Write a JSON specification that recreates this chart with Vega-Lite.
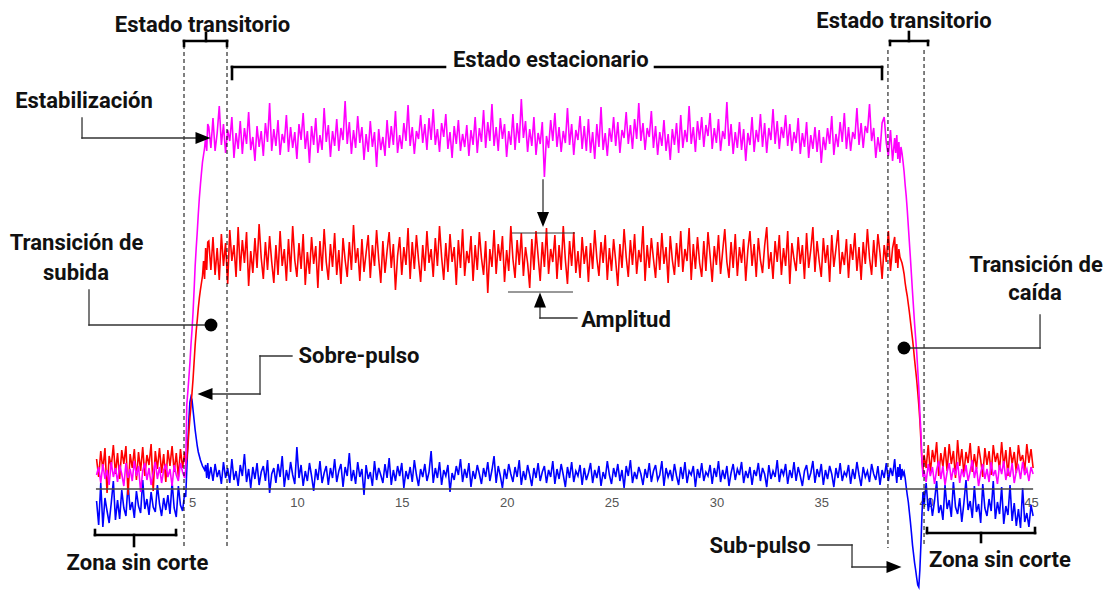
{
  "$schema": "https://vega.github.io/schema/vega-lite/v6.json",
  "width": 1106,
  "height": 590,
  "padding": 0,
  "autosize": {"type": "none"},
  "background": "white",
  "config": {"view": {"stroke": null}},
  "datasets": {
    "sig": [
      {"x":0.45,"m":14,"r":30,"b":-12},{"x":0.55,"m":22,"r":12,"b":-36},{"x":0.65,"m":6,"r":38,"b":6},{"x":0.75,"m":25,"r":19,"b":-38},{"x":0.85,"m":10,"r":41,"b":-9},
      {"x":0.95,"m":19,"r":-4,"b":-22},{"x":1.05,"m":4,"r":33,"b":-34},{"x":1.15,"m":27,"r":22,"b":-14},{"x":1.25,"m":12,"r":44,"b":8},{"x":1.35,"m":21,"r":15,"b":-31},
      {"x":1.45,"m":7,"r":36,"b":-11},{"x":1.55,"m":24,"r":10,"b":-30},{"x":1.65,"m":15,"r":39,"b":-1},{"x":1.75,"m":3,"r":25,"b":-19},{"x":1.85,"m":26,"r":43,"b":-27},
      {"x":1.95,"m":11,"r":-6,"b":5},{"x":2.05,"m":20,"r":35,"b":-21},{"x":2.15,"m":8,"r":21,"b":-13},{"x":2.25,"m":28,"r":40,"b":-29},{"x":2.35,"m":13,"r":9,"b":-2},
      {"x":2.45,"m":23,"r":37,"b":-17},{"x":2.55,"m":-3,"r":18,"b":-24},{"x":2.65,"m":18,"r":42,"b":9},{"x":2.75,"m":26,"r":13,"b":-20},{"x":2.85,"m":9,"r":34,"b":-10},
      {"x":2.95,"m":21,"r":24,"b":-26},{"x":3.05,"m":4,"r":45,"b":-3},{"x":3.15,"m":16,"r":-2,"b":-18},{"x":3.25,"m":27,"r":38,"b":-23},{"x":3.35,"m":10,"r":20,"b":4},
      {"x":3.45,"m":22,"r":41,"b":-15},{"x":3.55,"m":6,"r":16,"b":-27},{"x":3.65,"m":19,"r":35,"b":-9},{"x":3.75,"m":25,"r":7,"b":-21},{"x":3.85,"m":12,"r":39,"b":-6},
      {"x":3.95,"m":20,"r":23,"b":-25},{"x":4.05,"m":3,"r":43,"b":7},{"x":4.15,"m":24,"r":17,"b":-19},{"x":4.25,"m":14,"r":36,"b":-28},{"x":4.35,"m":8,"r":12,"b":3},
      {"x":4.45,"m":26,"r":40,"b":-16},{"x":4.55,"m":17,"r":21,"b":-22},{"x":4.65,"m":11,"r":37,"b":-4},
      {"x":4.70,"m":20,"r":25,"b":-8},{"x":4.75,"m":84,"r":30,"b":19},{"x":4.80,"m":97,"r":41,"b":44},{"x":4.85,"m":111,"r":57,"b":69},{"x":4.90,"m":126,"r":71,"b":87},
      {"x":4.95,"m":144,"r":83,"b":92},{"x":5.00,"m":159,"r":96,"b":89},{"x":5.05,"m":177,"r":110,"b":79},{"x":5.10,"m":199,"r":127,"b":69},{"x":5.15,"m":223,"r":144,"b":59},
      {"x":5.20,"m":241,"r":158,"b":51},{"x":5.25,"m":257,"r":169,"b":43},{"x":5.30,"m":275,"r":181,"b":37},{"x":5.35,"m":291,"r":191,"b":33},{"x":5.40,"m":304,"r":199,"b":29},
      {"x":5.45,"m":316,"r":206,"b":26},{"x":5.50,"m":327,"r":213,"b":23},{"x":5.55,"m":334,"r":228,"b":21},{"x":5.60,"m":341,"r":210,"b":19},{"x":5.65,"m":352,"r":241,"b":24},
      {"x":5.70,"m":338,"r":219,"b":11},{"x":5.75,"m":365,"r":247,"b":26},
      {"x":5.8,"m":362,"r":248,"b":10},{"x":5.9,"m":341,"r":219,"b":22},{"x":6.0,"m":371,"r":252,"b":8},{"x":6.1,"m":338,"r":214,"b":25},{"x":6.2,"m":356,"r":241,"b":12},
      {"x":6.3,"m":383,"r":209,"b":19},{"x":6.4,"m":344,"r":255,"b":5},{"x":6.5,"m":365,"r":223,"b":27},{"x":6.6,"m":336,"r":246,"b":11},{"x":6.7,"m":359,"r":205,"b":21},
      {"x":6.8,"m":348,"r":259,"b":6},{"x":6.9,"m":372,"r":228,"b":30},{"x":7.0,"m":331,"r":244,"b":9},{"x":7.1,"m":356,"r":212,"b":18},{"x":7.2,"m":340,"r":262,"b":3},
      {"x":7.3,"m":368,"r":218,"b":24},{"x":7.4,"m":335,"r":249,"b":13},{"x":7.5,"m":361,"r":226,"b":35},{"x":7.6,"m":345,"r":257,"b":7},{"x":7.7,"m":377,"r":203,"b":20},
      {"x":7.8,"m":339,"r":238,"b":1},{"x":7.9,"m":352,"r":216,"b":22},{"x":8.0,"m":328,"r":251,"b":10},{"x":8.1,"m":363,"r":221,"b":26},{"x":8.2,"m":342,"r":265,"b":4},
      {"x":8.3,"m":358,"r":231,"b":17},{"x":8.4,"m":333,"r":210,"b":23},{"x":8.5,"m":366,"r":247,"b":8},{"x":8.6,"m":347,"r":219,"b":29},{"x":8.7,"m":386,"r":253,"b":-4},
      {"x":8.8,"m":338,"r":227,"b":15},{"x":8.9,"m":360,"r":206,"b":21},{"x":9.0,"m":343,"r":244,"b":6},{"x":9.1,"m":369,"r":214,"b":25},{"x":9.2,"m":334,"r":258,"b":12},
      {"x":9.3,"m":355,"r":223,"b":33},{"x":9.4,"m":346,"r":240,"b":2},{"x":9.5,"m":374,"r":208,"b":19},{"x":9.6,"m":337,"r":250,"b":9},{"x":9.7,"m":362,"r":217,"b":27},
      {"x":9.8,"m":341,"r":263,"b":14},{"x":9.9,"m":357,"r":229,"b":5},{"x":10.0,"m":330,"r":212,"b":42},{"x":10.1,"m":365,"r":246,"b":11},{"x":10.2,"m":349,"r":220,"b":24},
      {"x":10.3,"m":376,"r":255,"b":3},{"x":10.4,"m":340,"r":204,"b":18},{"x":10.5,"m":358,"r":237,"b":8},{"x":10.6,"m":326,"r":215,"b":26},{"x":10.7,"m":363,"r":252,"b":13},
      {"x":10.8,"m":344,"r":225,"b":-2},{"x":10.9,"m":371,"r":243,"b":20},{"x":11.0,"m":336,"r":201,"b":9},{"x":11.1,"m":354,"r":248,"b":28},{"x":11.2,"m":339,"r":218,"b":6},
      {"x":11.3,"m":381,"r":260,"b":16},{"x":11.4,"m":347,"r":227,"b":23},{"x":11.5,"m":364,"r":209,"b":4},{"x":11.6,"m":332,"r":245,"b":21},{"x":11.7,"m":358,"r":222,"b":11},
      {"x":11.8,"m":343,"r":256,"b":30},{"x":11.9,"m":370,"r":214,"b":7},{"x":12.0,"m":338,"r":239,"b":18},{"x":12.1,"m":361,"r":205,"b":25},{"x":12.2,"m":349,"r":251,"b":2},
      {"x":12.3,"m":388,"r":229,"b":22},{"x":12.4,"m":345,"r":212,"b":13},{"x":12.5,"m":367,"r":247,"b":36},{"x":12.6,"m":335,"r":219,"b":8},{"x":12.7,"m":359,"r":264,"b":19},
      {"x":12.8,"m":341,"r":226,"b":5},{"x":12.9,"m":373,"r":241,"b":27},{"x":13.0,"m":346,"r":208,"b":12},{"x":13.1,"m":362,"r":250,"b":20},{"x":13.2,"m":329,"r":217,"b":-6},
      {"x":13.3,"m":355,"r":236,"b":24},{"x":13.4,"m":337,"r":254,"b":10},{"x":13.5,"m":368,"r":211,"b":17},{"x":13.6,"m":342,"r":244,"b":3},{"x":13.7,"m":357,"r":223,"b":28},
      {"x":13.8,"m":322,"r":259,"b":9},{"x":13.9,"m":360,"r":230,"b":21},{"x":14.0,"m":339,"r":206,"b":14},{"x":14.1,"m":352,"r":248,"b":6},{"x":14.2,"m":333,"r":216,"b":25},
      {"x":14.3,"m":369,"r":238,"b":11},{"x":14.4,"m":341,"r":257,"b":31},{"x":14.5,"m":363,"r":221,"b":4},{"x":14.6,"m":344,"r":245,"b":19},{"x":14.7,"m":378,"r":199,"b":8},
      {"x":14.8,"m":336,"r":233,"b":23},{"x":14.9,"m":354,"r":252,"b":13},{"x":15.0,"m":340,"r":214,"b":26},{"x":15.1,"m":366,"r":242,"b":1},{"x":15.2,"m":348,"r":224,"b":18},
      {"x":15.3,"m":384,"r":261,"b":10},{"x":15.4,"m":343,"r":210,"b":22},{"x":15.5,"m":362,"r":247,"b":7},{"x":15.6,"m":335,"r":220,"b":29},{"x":15.7,"m":358,"r":254,"b":14},
      {"x":15.8,"m":350,"r":229,"b":3},{"x":15.9,"m":374,"r":207,"b":20},{"x":16.0,"m":346,"r":244,"b":12},{"x":16.1,"m":365,"r":218,"b":25},{"x":16.2,"m":339,"r":258,"b":8},
      {"x":16.3,"m":371,"r":226,"b":17},{"x":16.4,"m":349,"r":240,"b":38},{"x":16.5,"m":380,"r":212,"b":6},{"x":16.6,"m":344,"r":251,"b":21},{"x":16.7,"m":360,"r":223,"b":11},
      {"x":16.8,"m":337,"r":263,"b":27},{"x":16.9,"m":366,"r":232,"b":4},{"x":17.0,"m":352,"r":209,"b":19},{"x":17.1,"m":375,"r":246,"b":13},{"x":17.2,"m":340,"r":217,"b":24},
      {"x":17.3,"m":357,"r":255,"b":-3},{"x":17.4,"m":331,"r":227,"b":16},{"x":17.5,"m":363,"r":242,"b":9},{"x":17.6,"m":345,"r":204,"b":23},{"x":17.7,"m":369,"r":249,"b":14},
      {"x":17.8,"m":338,"r":221,"b":30},{"x":17.9,"m":355,"r":260,"b":7},{"x":18.0,"m":342,"r":213,"b":20},{"x":18.1,"m":364,"r":238,"b":11},{"x":18.2,"m":333,"r":226,"b":26},
      {"x":18.3,"m":359,"r":253,"b":2},{"x":18.4,"m":344,"r":208,"b":18},{"x":18.5,"m":372,"r":244,"b":10},{"x":18.6,"m":336,"r":219,"b":24},{"x":18.7,"m":361,"r":257,"b":15},
      {"x":18.8,"m":347,"r":231,"b":5},{"x":18.9,"m":379,"r":214,"b":21},{"x":19.0,"m":341,"r":248,"b":12},{"x":19.1,"m":367,"r":196,"b":27},{"x":19.2,"m":348,"r":240,"b":8},
      {"x":19.3,"m":385,"r":222,"b":19},{"x":19.4,"m":343,"r":259,"b":33},{"x":19.5,"m":362,"r":215,"b":6},{"x":19.6,"m":338,"r":245,"b":23},{"x":19.7,"m":371,"r":228,"b":13},
      {"x":19.8,"m":350,"r":253,"b":1},{"x":19.9,"m":365,"r":207,"b":20},{"x":20.0,"m":332,"r":239,"b":10},{"x":20.1,"m":358,"r":218,"b":25},{"x":20.2,"m":344,"r":263,"b":15},
      {"x":20.3,"m":375,"r":230,"b":7},{"x":20.4,"m":339,"r":211,"b":22},{"x":20.5,"m":366,"r":249,"b":12},{"x":20.6,"m":346,"r":224,"b":29},{"x":20.7,"m":390,"r":256,"b":4},
      {"x":20.8,"m":351,"r":213,"b":18},{"x":20.9,"m":368,"r":242,"b":9},{"x":21.0,"m":337,"r":226,"b":24},{"x":21.1,"m":360,"r":201,"b":14},{"x":21.2,"m":343,"r":250,"b":3},
      {"x":21.3,"m":372,"r":219,"b":21},{"x":21.4,"m":334,"r":258,"b":11},{"x":21.5,"m":356,"r":233,"b":26},{"x":21.6,"m":345,"r":208,"b":8},{"x":21.7,"m":367,"r":247,"b":17},
      {"x":21.8,"m":312,"r":222,"b":23},{"x":21.9,"m":353,"r":261,"b":6},{"x":22.0,"m":341,"r":215,"b":19},{"x":22.1,"m":369,"r":240,"b":12},{"x":22.2,"m":348,"r":227,"b":28},
      {"x":22.3,"m":376,"r":254,"b":5},{"x":22.4,"m":342,"r":210,"b":20},{"x":22.5,"m":362,"r":244,"b":10},{"x":22.6,"m":337,"r":219,"b":25},{"x":22.7,"m":358,"r":263,"b":14},
      {"x":22.8,"m":346,"r":229,"b":2},{"x":22.9,"m":381,"r":205,"b":22},{"x":23.0,"m":344,"r":248,"b":11},{"x":23.1,"m":365,"r":223,"b":27},{"x":23.2,"m":334,"r":257,"b":7},
      {"x":23.3,"m":359,"r":216,"b":18},{"x":23.4,"m":349,"r":238,"b":13},{"x":23.5,"m":373,"r":211,"b":24},{"x":23.6,"m":340,"r":252,"b":4},{"x":23.7,"m":363,"r":225,"b":21},
      {"x":23.8,"m":338,"r":243,"b":9},{"x":23.9,"m":370,"r":207,"b":16},{"x":24.0,"m":336,"r":246,"b":26},{"x":24.1,"m":357,"r":220,"b":6},{"x":24.2,"m":330,"r":259,"b":19},
      {"x":24.3,"m":365,"r":231,"b":11},{"x":24.4,"m":342,"r":213,"b":23},{"x":24.5,"m":382,"r":247,"b":3},{"x":24.6,"m":339,"r":226,"b":17},{"x":24.7,"m":356,"r":254,"b":10},
      {"x":24.8,"m":333,"r":209,"b":28},{"x":24.9,"m":361,"r":241,"b":14},{"x":25.0,"m":347,"r":218,"b":5},{"x":25.1,"m":372,"r":250,"b":21},{"x":25.2,"m":343,"r":228,"b":12},
      {"x":25.3,"m":367,"r":203,"b":25},{"x":25.4,"m":336,"r":245,"b":8},{"x":25.5,"m":359,"r":221,"b":19},{"x":25.6,"m":351,"r":260,"b":1},{"x":25.7,"m":377,"r":232,"b":23},
      {"x":25.8,"m":345,"r":212,"b":13},{"x":25.9,"m":364,"r":249,"b":29},{"x":26.0,"m":340,"r":224,"b":6},{"x":26.1,"m":370,"r":255,"b":17},{"x":26.2,"m":350,"r":215,"b":10},
      {"x":26.3,"m":386,"r":239,"b":22},{"x":26.4,"m":348,"r":227,"b":15},{"x":26.5,"m":366,"r":263,"b":4},{"x":26.6,"m":339,"r":208,"b":20},{"x":26.7,"m":361,"r":244,"b":11},
      {"x":26.8,"m":352,"r":221,"b":26},{"x":26.9,"m":378,"r":251,"b":7},{"x":27.0,"m":341,"r":230,"b":18},{"x":27.1,"m":363,"r":211,"b":24},{"x":27.2,"m":334,"r":247,"b":9},
      {"x":27.3,"m":357,"r":219,"b":14},{"x":27.4,"m":343,"r":256,"b":28},{"x":27.5,"m":369,"r":225,"b":3},{"x":27.6,"m":338,"r":242,"b":21},{"x":27.7,"m":355,"r":206,"b":12},
      {"x":27.8,"m":329,"r":253,"b":19},{"x":27.9,"m":360,"r":229,"b":8},{"x":28.0,"m":344,"r":214,"b":25},{"x":28.1,"m":366,"r":246,"b":13},{"x":28.2,"m":336,"r":222,"b":4},
      {"x":28.3,"m":374,"r":258,"b":22},{"x":28.4,"m":341,"r":217,"b":10},{"x":28.5,"m":359,"r":240,"b":27},{"x":28.6,"m":347,"r":228,"b":6},{"x":28.7,"m":383,"r":261,"b":18},
      {"x":28.8,"m":345,"r":209,"b":14},{"x":28.9,"m":362,"r":245,"b":23},{"x":29.0,"m":337,"r":220,"b":2},{"x":29.1,"m":368,"r":252,"b":20},{"x":29.2,"m":349,"r":226,"b":11},
      {"x":29.3,"m":372,"r":212,"b":26},{"x":29.4,"m":342,"r":248,"b":8},{"x":29.5,"m":364,"r":218,"b":17},{"x":29.6,"m":353,"r":257,"b":13},{"x":29.7,"m":376,"r":233,"b":24},
      {"x":29.8,"m":340,"r":207,"b":5},{"x":29.9,"m":361,"r":243,"b":21},{"x":30.0,"m":346,"r":224,"b":12},{"x":30.1,"m":370,"r":254,"b":28},{"x":30.2,"m":338,"r":215,"b":7},
      {"x":30.3,"m":358,"r":238,"b":19},{"x":30.4,"m":350,"r":260,"b":10},{"x":30.5,"m":387,"r":227,"b":23},{"x":30.6,"m":343,"r":211,"b":3},{"x":30.7,"m":365,"r":247,"b":16},
      {"x":30.8,"m":335,"r":221,"b":25},{"x":30.9,"m":357,"r":255,"b":9},{"x":31.0,"m":341,"r":213,"b":20},{"x":31.1,"m":367,"r":242,"b":14},{"x":31.2,"m":339,"r":226,"b":27},
      {"x":31.3,"m":360,"r":250,"b":6},{"x":31.4,"m":328,"r":208,"b":18},{"x":31.5,"m":356,"r":239,"b":11},{"x":31.6,"m":344,"r":258,"b":22},{"x":31.7,"m":372,"r":223,"b":4},
      {"x":31.8,"m":337,"r":245,"b":19},{"x":31.9,"m":359,"r":212,"b":13},{"x":32.0,"m":347,"r":251,"b":26},{"x":32.1,"m":375,"r":229,"b":8},{"x":32.2,"m":342,"r":216,"b":21},
      {"x":32.3,"m":366,"r":243,"b":15},{"x":32.4,"m":336,"r":262,"b":2},{"x":32.5,"m":361,"r":220,"b":24},{"x":32.6,"m":349,"r":237,"b":10},{"x":32.7,"m":380,"r":210,"b":18},
      {"x":32.8,"m":345,"r":248,"b":12},{"x":32.9,"m":368,"r":227,"b":29},{"x":33.0,"m":340,"r":254,"b":7},{"x":33.1,"m":362,"r":214,"b":20},{"x":33.2,"m":351,"r":241,"b":14},
      {"x":33.3,"m":374,"r":223,"b":25},{"x":33.4,"m":343,"r":258,"b":5},{"x":33.5,"m":365,"r":205,"b":19},{"x":33.6,"m":338,"r":246,"b":11},{"x":33.7,"m":357,"r":230,"b":27},
      {"x":33.8,"m":346,"r":218,"b":8},{"x":33.9,"m":371,"r":252,"b":22},{"x":34.0,"m":335,"r":225,"b":13},{"x":34.1,"m":356,"r":244,"b":3},{"x":34.2,"m":342,"r":210,"b":18},
      {"x":34.3,"m":367,"r":256,"b":24},{"x":34.4,"m":331,"r":221,"b":9},{"x":34.5,"m":354,"r":239,"b":16},{"x":34.6,"m":340,"r":262,"b":28},{"x":34.7,"m":362,"r":217,"b":6},
      {"x":34.8,"m":337,"r":248,"b":20},{"x":34.9,"m":359,"r":228,"b":12},{"x":35.0,"m":326,"r":212,"b":25},{"x":35.1,"m":352,"r":251,"b":4},{"x":35.2,"m":339,"r":226,"b":19},
      {"x":35.3,"m":361,"r":244,"b":10},{"x":35.4,"m":345,"r":207,"b":23},{"x":35.5,"m":373,"r":254,"b":15},{"x":35.6,"m":334,"r":222,"b":2},{"x":35.7,"m":355,"r":240,"b":21},
      {"x":35.8,"m":342,"r":259,"b":11},{"x":35.9,"m":367,"r":215,"b":26},{"x":36.0,"m":347,"r":237,"b":8},{"x":36.1,"m":376,"r":224,"b":17},{"x":36.2,"m":340,"r":250,"b":13},
      {"x":36.3,"m":362,"r":211,"b":24},{"x":36.4,"m":338,"r":245,"b":5},{"x":36.5,"m":357,"r":229,"b":20},{"x":36.6,"m":350,"r":256,"b":10},{"x":36.7,"m":381,"r":218,"b":27},
      {"x":36.8,"m":344,"r":242,"b":14},{"x":36.9,"m":366,"r":209,"b":3},{"x":37.0,"m":341,"r":247,"b":22},{"x":37.1,"m":363,"r":225,"b":12},{"x":37.2,"m":356,"r":260,"b":18},
      {"x":37.3,"m":385,"r":231,"b":7},{"x":37.4,"m":348,"r":214,"b":25},{"x":37.5,"m":361,"r":249,"b":15},{"x":37.6,"m":331,"r":222,"b":9},{"x":37.7,"m":352,"r":255,"b":23},
      {"x":37.8,"m":337,"r":236,"b":4},{"x":37.9,"m":366,"r":210,"b":19},{"x":38.0,"m":372,"r":244,"b":11},{"x":38.1,"m":346,"r":227,"b":26},{"x":38.2,"m":333,"r":258,"b":8},
      {"x":38.3,"m":359,"r":218,"b":21},{"x":38.4,"m":328,"r":241,"b":13},{"x":38.5,"m":351,"r":252,"b":30},
      {"x":38.55,"m":336,"r":226,"b":17},{"x":38.60,"m":354,"r":245,"b":6},{"x":38.65,"m":330,"r":221,"b":22},{"x":38.70,"m":347,"r":240,"b":12},{"x":38.75,"m":326,"r":232,"b":25},
      {"x":38.80,"m":342,"r":229,"b":9},{"x":38.85,"m":336,"r":226,"b":20},{"x":38.90,"m":327,"r":221,"b":14},{"x":38.95,"m":317,"r":215,"b":17},{"x":39.00,"m":304,"r":206,"b":11},
      {"x":39.05,"m":293,"r":199,"b":2},{"x":39.10,"m":279,"r":193,"b":-6},{"x":39.15,"m":263,"r":185,"b":-13},{"x":39.20,"m":247,"r":177,"b":-23},{"x":39.25,"m":231,"r":168,"b":-33},
      {"x":39.30,"m":214,"r":159,"b":-44},{"x":39.35,"m":197,"r":150,"b":-56},{"x":39.40,"m":181,"r":140,"b":-65},{"x":39.45,"m":165,"r":129,"b":-74},{"x":39.50,"m":151,"r":119,"b":-81},
      {"x":39.55,"m":137,"r":109,"b":-89},{"x":39.60,"m":119,"r":97,"b":-96},{"x":39.65,"m":101,"r":84,"b":-98},{"x":39.70,"m":77,"r":69,"b":-81},{"x":39.75,"m":57,"r":49,"b":-56},
      {"x":39.80,"m":29,"r":27,"b":-26},{"x":39.85,"m":12,"r":18,"b":-3},
      {"x":39.9,"m":18,"r":34,"b":-15},{"x":40.0,"m":7,"r":21,"b":6},{"x":40.1,"m":25,"r":44,"b":-22},{"x":40.2,"m":13,"r":16,"b":-9},{"x":40.3,"m":22,"r":39,"b":-27},
      {"x":40.4,"m":5,"r":27,"b":-12},{"x":40.5,"m":19,"r":47,"b":8},{"x":40.6,"m":28,"r":13,"b":-24},{"x":40.7,"m":10,"r":36,"b":-16},{"x":40.8,"m":23,"r":22,"b":-31},
      {"x":40.9,"m":4,"r":42,"b":4},{"x":41.0,"m":17,"r":18,"b":-20},{"x":41.1,"m":26,"r":45,"b":-11},{"x":41.2,"m":9,"r":25,"b":-28},{"x":41.3,"m":21,"r":38,"b":7},
      {"x":41.4,"m":14,"r":11,"b":-18},{"x":41.5,"m":27,"r":49,"b":-25},{"x":41.6,"m":6,"r":23,"b":-9},{"x":41.7,"m":20,"r":40,"b":-33},{"x":41.8,"m":12,"r":15,"b":-14},
      {"x":41.9,"m":24,"r":37,"b":9},{"x":42.0,"m":8,"r":26,"b":-21},{"x":42.1,"m":18,"r":46,"b":-12},{"x":42.2,"m":29,"r":17,"b":-29},{"x":42.3,"m":11,"r":35,"b":3},
      {"x":42.4,"m":22,"r":20,"b":-23},{"x":42.5,"m":3,"r":43,"b":-15},{"x":42.6,"m":16,"r":29,"b":-34},{"x":42.7,"m":25,"r":12,"b":5},{"x":42.8,"m":10,"r":41,"b":-19},
      {"x":42.9,"m":20,"r":24,"b":-27},{"x":43.0,"m":7,"r":38,"b":-10},{"x":43.1,"m":27,"r":14,"b":-22},{"x":43.2,"m":13,"r":44,"b":8},{"x":43.3,"m":19,"r":27,"b":-30},
      {"x":43.4,"m":5,"r":36,"b":-13},{"x":43.5,"m":24,"r":19,"b":-25},{"x":43.6,"m":15,"r":47,"b":2},{"x":43.7,"m":28,"r":22,"b":-35},{"x":43.8,"m":9,"r":39,"b":-17},
      {"x":43.9,"m":21,"r":13,"b":-26},{"x":44.0,"m":12,"r":42,"b":4},{"x":44.1,"m":26,"r":25,"b":-32},{"x":44.2,"m":6,"r":37,"b":-14},{"x":44.3,"m":18,"r":16,"b":-37},
      {"x":44.4,"m":23,"r":44,"b":-20},{"x":44.5,"m":10,"r":28,"b":-39},{"x":44.6,"m":27,"r":34,"b":1},{"x":44.7,"m":14,"r":18,"b":-33},{"x":44.8,"m":20,"r":45,"b":-24},
      {"x":44.9,"m":8,"r":26,"b":-38},{"x":45.0,"m":22,"r":40,"b":-16},{"x":45.1,"m":15,"r":21,"b":-27}
    ],
    "baseline": [{"x":0.42,"x2":45.1,"y":0}],
    "dashes": [
      {"x":4.619,"y":444,"y2":-59},{"x":6.669,"y":444,"y2":-59},
      {"x":38.18,"y":439,"y2":-59},{"x":39.9,"y":439,"y2":-58}
    ],
    "brackets": [
      {"x":4.619,"y":448,"x2":6.669,"y2":448},{"x":4.619,"y":448,"x2":4.619,"y2":443},{"x":6.669,"y":448,"x2":6.669,"y2":443},{"x":5.667,"y":448,"x2":5.667,"y2":456},
      {"x":38.277,"y":448,"x2":40.089,"y2":448},{"x":38.277,"y":448,"x2":38.277,"y2":444},{"x":40.089,"y":448,"x2":40.089,"y2":444},{"x":39.18,"y":448,"x2":39.18,"y2":457},
      {"x":6.907,"y":422,"x2":17.062,"y2":422},{"x":27.074,"y":422,"x2":37.896,"y2":422},{"x":6.907,"y":422,"x2":6.907,"y2":410},{"x":37.896,"y":422,"x2":37.896,"y2":410},
      {"x":0.375,"y":-46,"x2":4.237,"y2":-46},{"x":0.375,"y":-46,"x2":0.375,"y2":-41},{"x":4.237,"y":-46,"x2":4.237,"y2":-41},{"x":2.235,"y":-46,"x2":2.235,"y2":-57},
      {"x":40.042,"y":-44,"x2":45.19,"y2":-44},{"x":40.042,"y":-44,"x2":40.042,"y2":-39},{"x":45.19,"y":-44,"x2":45.19,"y2":-39},{"x":42.616,"y":-44,"x2":42.616,"y2":-53}
    ],
    "leaders": [
      {"x":-0.244,"y":371,"x2":-0.244,"y2":351},{"x":-0.244,"y":351,"x2":5.19,"y2":351},
      {"x":0.089,"y":199,"x2":0.089,"y2":164},{"x":0.089,"y":164,"x2":5.906,"y2":164},
      {"x":9.768,"y":133,"x2":8.242,"y2":133},{"x":8.242,"y":133,"x2":8.242,"y2":95},{"x":8.242,"y":95,"x2":5.953,"y2":95},
      {"x":21.734,"y":309,"x2":21.734,"y2":277},
      {"x":21.591,"y":182,"x2":21.591,"y2":171},{"x":21.591,"y":171,"x2":23.355,"y2":171},
      {"x":45.43,"y":174,"x2":45.43,"y2":141},{"x":45.43,"y":141,"x2":38.945,"y2":141},
      {"x":34.845,"y":-56,"x2":36.466,"y2":-56},{"x":36.466,"y":-56,"x2":36.466,"y2":-78},{"x":36.466,"y":-78,"x2":38.13,"y2":-78}
    ],
    "levels": [
      {"x":20.256,"y":256,"x2":23.26,"y2":256},{"x":20.065,"y":197,"x2":23.164,"y2":197}
    ],
    "arrows": [
      {"x":5.524,"y":351,"dir":"right"},{"x":5.62,"y":95,"dir":"left"},{"x":38.469,"y":-78,"dir":"right"},
      {"x":21.734,"y":269.5,"dir":"down"},{"x":21.591,"y":189,"dir":"up"}
    ],
    "dots": [{"x":5.906,"y":164},{"x":38.945,"y":141}],
    "labels": [
      {"x":5.501,"y":457,"t":"Estado transitorio"},
      {"x":38.945,"y":461,"t":"Estado transitorio"},
      {"x":22.105,"y":422,"t":"Estado estacionario"},
      {"x":-0.149,"y":381,"t":"Estabilización"},
      {"x":-0.507,"y":239,"t":"Transición de"},
      {"x":-0.53,"y":209,"t":"subida"},
      {"x":45.24,"y":217,"t":"Transición de"},
      {"x":45.19,"y":189,"t":"caída"},
      {"x":12.962,"y":126,"t":"Sobre-pulso"},
      {"x":25.69,"y":162,"t":"Amplitud"},
      {"x":32.08,"y":-64,"t":"Sub-pulso"},
      {"x":2.402,"y":-81,"t":"Zona sin corte"},
      {"x":43.52,"y":-78,"t":"Zona sin corte"}
    ]
  },
  "encoding": {
    "x": {
      "field": "x", "type": "quantitative",
      "scale": {"domain": [-4.154, 48.575], "nice": false, "zero": false},
      "axis": {
        "values": [5, 10, 15, 20, 25, 30, 35, 40, 45],
        "offset": -101, "domain": false, "ticks": false, "grid": false, "title": null,
        "labelFont": "Liberation Sans", "labelFontSize": 13, "labelColor": "#555",
        "labelPadding": 7, "labelFlush": false
      }
    }
  },
  "layer": [
    {
      "data": {"name": "sig"},
      "mark": {"type": "line", "color": "#0000ff", "strokeWidth": 1.6},
      "encoding": {"y": {"field": "b", "type": "quantitative", "scale": {"domain": [-101, 489], "nice": false, "zero": false}, "axis": null}}
    },
    {
      "data": {"name": "sig"},
      "mark": {"type": "line", "color": "#ff0000", "strokeWidth": 1.6},
      "encoding": {"y": {"field": "r", "type": "quantitative", "scale": {"domain": [-101, 489], "nice": false, "zero": false}, "axis": null}}
    },
    {
      "data": {"name": "sig"},
      "mark": {"type": "line", "color": "#ff00ff", "strokeWidth": 1.6},
      "encoding": {"y": {"field": "m", "type": "quantitative", "scale": {"domain": [-101, 489], "nice": false, "zero": false}, "axis": null}}
    },
    {
      "data": {"name": "baseline"},
      "mark": {"type": "rule", "color": "#444", "strokeWidth": 1.3},
      "encoding": {"x2": {"field": "x2"}, "y": {"field": "y", "type": "quantitative", "scale": {"domain": [-101, 489], "nice": false, "zero": false}, "axis": null}}
    },
    {
      "data": {"name": "dashes"},
      "mark": {"type": "rule", "color": "#000", "strokeWidth": 1, "strokeDash": [4, 3]},
      "encoding": {"y": {"field": "y", "type": "quantitative", "scale": {"domain": [-101, 489], "nice": false, "zero": false}, "axis": null}, "y2": {"field": "y2"}}
    },
    {
      "data": {"name": "brackets"},
      "mark": {"type": "rule", "color": "#000", "strokeWidth": 2.6, "strokeCap": "square"},
      "encoding": {"x2": {"field": "x2"}, "y": {"field": "y", "type": "quantitative", "scale": {"domain": [-101, 489], "nice": false, "zero": false}, "axis": null}, "y2": {"field": "y2"}}
    },
    {
      "data": {"name": "leaders"},
      "mark": {"type": "rule", "color": "#333", "strokeWidth": 1.3, "strokeCap": "square"},
      "encoding": {"x2": {"field": "x2"}, "y": {"field": "y", "type": "quantitative", "scale": {"domain": [-101, 489], "nice": false, "zero": false}, "axis": null}, "y2": {"field": "y2"}}
    },
    {
      "data": {"name": "levels"},
      "mark": {"type": "rule", "color": "#333", "strokeWidth": 1},
      "encoding": {"x2": {"field": "x2"}, "y": {"field": "y", "type": "quantitative", "scale": {"domain": [-101, 489], "nice": false, "zero": false}, "axis": null}, "y2": {"field": "y2"}}
    },
    {
      "data": {"name": "arrows"},
      "transform": [{"filter": "datum.dir === 'right'"}],
      "mark": {"type": "point", "shape": "M-1,-0.8L1,0L-1,0.8Z", "filled": true, "color": "#000", "opacity": 1, "size": 225, "angle": 0},
      "encoding": {"y": {"field": "y", "type": "quantitative", "scale": {"domain": [-101, 489], "nice": false, "zero": false}, "axis": null}}
    },
    {
      "data": {"name": "arrows"},
      "transform": [{"filter": "datum.dir === 'left'"}],
      "mark": {"type": "point", "shape": "M-1,-0.8L1,0L-1,0.8Z", "filled": true, "color": "#000", "opacity": 1, "size": 225, "angle": 180},
      "encoding": {"y": {"field": "y", "type": "quantitative", "scale": {"domain": [-101, 489], "nice": false, "zero": false}, "axis": null}}
    },
    {
      "data": {"name": "arrows"},
      "transform": [{"filter": "datum.dir === 'down'"}],
      "mark": {"type": "point", "shape": "M-1,-0.8L1,0L-1,0.8Z", "filled": true, "color": "#000", "opacity": 1, "size": 225, "angle": 90},
      "encoding": {"y": {"field": "y", "type": "quantitative", "scale": {"domain": [-101, 489], "nice": false, "zero": false}, "axis": null}}
    },
    {
      "data": {"name": "arrows"},
      "transform": [{"filter": "datum.dir === 'up'"}],
      "mark": {"type": "point", "shape": "M-1,-0.8L1,0L-1,0.8Z", "filled": true, "color": "#000", "opacity": 1, "size": 225, "angle": 270},
      "encoding": {"y": {"field": "y", "type": "quantitative", "scale": {"domain": [-101, 489], "nice": false, "zero": false}, "axis": null}}
    },
    {
      "data": {"name": "dots"},
      "mark": {"type": "circle", "color": "#000", "opacity": 1, "size": 165},
      "encoding": {"y": {"field": "y", "type": "quantitative", "scale": {"domain": [-101, 489], "nice": false, "zero": false}, "axis": null}}
    },
    {
      "data": {"name": "labels"},
      "mark": {"type": "text", "font": "Roboto", "fontWeight": "bold", "fontSize": 22, "color": "#111", "align": "center", "baseline": "alphabetic"},
      "encoding": {
        "y": {"field": "y", "type": "quantitative", "scale": {"domain": [-101, 489], "nice": false, "zero": false}, "axis": null},
        "text": {"field": "t"}
      }
    }
  ]
}
